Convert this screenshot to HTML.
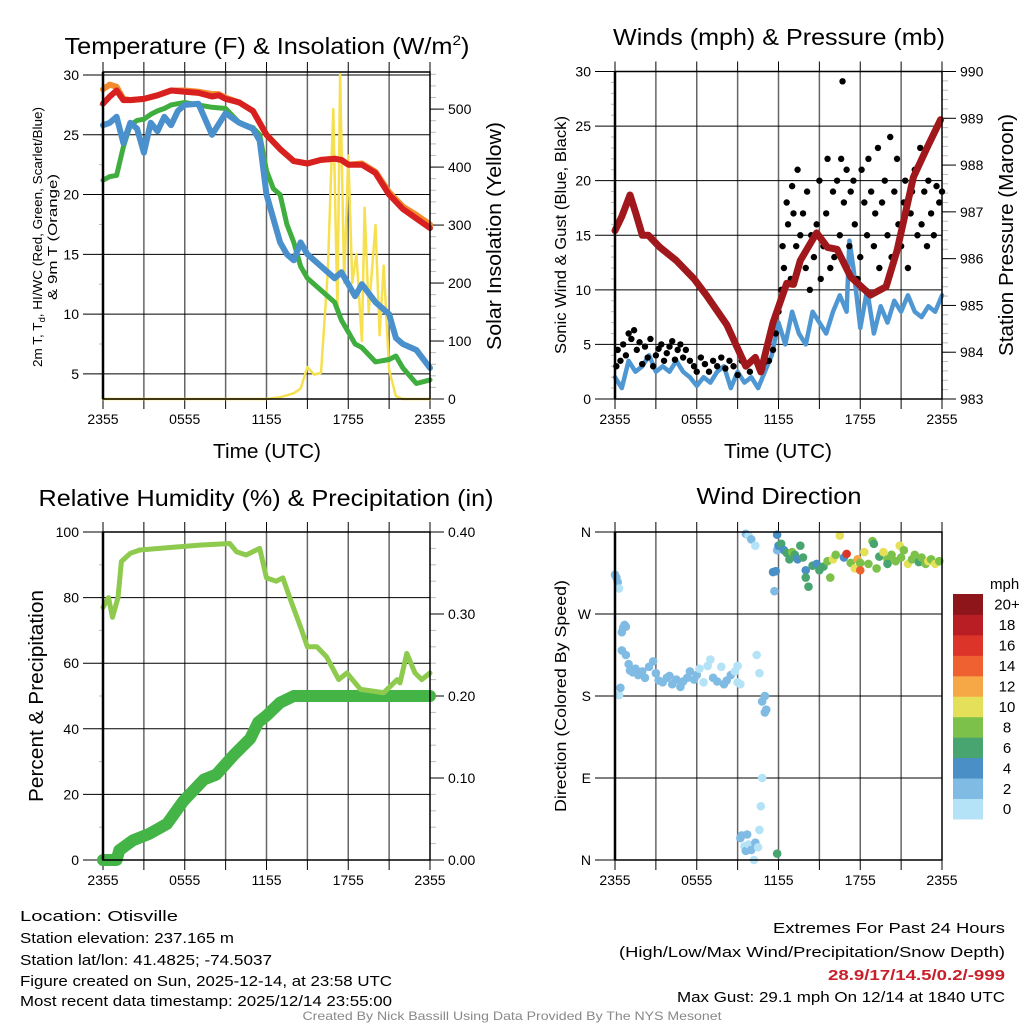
<!DOCTYPE html>
<html><head><meta charset="utf-8"><style>
html,body{margin:0;padding:0;background:#fff}
svg{display:block;font-family:"Liberation Sans",sans-serif}
</style></head><body>
<svg id="chart" xmlns="http://www.w3.org/2000/svg" width="1024" height="1024" viewBox="0 0 1024 1024">
<rect x="0" y="0" width="1024" height="1024" fill="#fff"/>
<text x="267" y="54" font-size="23" text-anchor="middle" textLength="405" lengthAdjust="spacingAndGlyphs">Temperature (F) &amp; Insolation (W/m<tspan dy="-9" font-size="14">2</tspan><tspan dy="9">)</tspan></text>
<text x="779" y="45" font-size="23" text-anchor="middle" textLength="332" lengthAdjust="spacingAndGlyphs">Winds (mph) &amp; Pressure (mb)</text>
<text x="266" y="506" font-size="23" text-anchor="middle" textLength="455" lengthAdjust="spacingAndGlyphs">Relative Humidity (%) &amp; Precipitation (in)</text>
<text x="779" y="504" font-size="23" text-anchor="middle" textLength="165" lengthAdjust="spacingAndGlyphs">Wind Direction</text>

<text transform="translate(42,237) rotate(-90)" font-size="13" text-anchor="middle" textLength="260" lengthAdjust="spacingAndGlyphs">2m T, T<tspan font-size="9" dy="3">d</tspan><tspan dy="-3">, HI/WC (Red, Green, Scarlet/Blue)</tspan></text>
<text transform="translate(57,237) rotate(-90)" font-size="13" text-anchor="middle" textLength="126" lengthAdjust="spacingAndGlyphs">&amp; 9m T (Orange)</text>
<text transform="translate(501,236) rotate(-90)" font-size="20" text-anchor="middle" textLength="228" lengthAdjust="spacingAndGlyphs">Solar Insolation (Yellow)</text>
<text x="267" y="458" font-size="20" text-anchor="middle" textLength="108" lengthAdjust="spacingAndGlyphs">Time (UTC)</text>
<text transform="translate(566,235) rotate(-90)" font-size="16" text-anchor="middle" textLength="238" lengthAdjust="spacingAndGlyphs">Sonic Wind &amp; Gust (Blue, Black)</text>
<text transform="translate(1013,235) rotate(-90)" font-size="20" text-anchor="middle" textLength="242" lengthAdjust="spacingAndGlyphs">Station Pressure (Maroon)</text>
<text x="778" y="458" font-size="20" text-anchor="middle" textLength="108" lengthAdjust="spacingAndGlyphs">Time (UTC)</text>
<text transform="translate(43,696) rotate(-90)" font-size="20" text-anchor="middle" textLength="212" lengthAdjust="spacingAndGlyphs">Percent &amp; Precipitation</text>
<text transform="translate(566,696) rotate(-90)" font-size="16" text-anchor="middle" textLength="232" lengthAdjust="spacingAndGlyphs">Direction (Colored By Speed)</text>
<text x="990" y="589" font-size="15" text-anchor="start">mph</text>

<g font-size="15">
<text x="20" y="921" textLength="158" lengthAdjust="spacingAndGlyphs">Location: Otisville</text>
<text x="20" y="943" textLength="214" lengthAdjust="spacingAndGlyphs">Station elevation: 237.165 m</text>
<text x="20" y="965" textLength="252" lengthAdjust="spacingAndGlyphs">Station lat/lon: 41.4825; -74.5037</text>
<text x="20" y="986" textLength="372" lengthAdjust="spacingAndGlyphs">Figure created on Sun, 2025-12-14, at 23:58 UTC</text>
<text x="20" y="1006" textLength="372" lengthAdjust="spacingAndGlyphs">Most recent data timestamp: 2025/12/14 23:55:00</text>
</g>
<g font-size="15" text-anchor="end">
<text x="1005" y="933" textLength="232" lengthAdjust="spacingAndGlyphs">Extremes For Past 24 Hours</text>
<text x="1005" y="957" textLength="386" lengthAdjust="spacingAndGlyphs">(High/Low/Max Wind/Precipitation/Snow Depth)</text>
<text x="1005" y="980" fill="#c8202a" font-weight="bold" textLength="177" lengthAdjust="spacingAndGlyphs">28.9/17/14.5/0.2/-999</text>
<text x="1005" y="1002" textLength="328" lengthAdjust="spacingAndGlyphs">Max Gust: 29.1 mph On 12/14 at 1840 UTC</text>
</g>
<text x="512" y="1020" font-size="12" fill="#888" text-anchor="middle" textLength="419" lengthAdjust="spacingAndGlyphs">Created By Nick Bassill Using Data Provided By The NYS Mesonet</text>
</svg>
<script>
// ---------- data (hours since 2355 UTC) ----------
const tempHours = [0,0.5,1,1.5,2,3,4,5,6,7,8,8.5,9,10,11,12,13,14,15,16,17,17.5,18,19,20,21,22,23,24];
const tempRed   = [27.6,28.2,28.7,27.9,27.9,28.0,28.3,28.7,28.6,28.5,28.2,28.3,28.0,27.7,27.0,25.0,23.8,22.8,22.6,22.9,23.0,22.9,22.5,22.5,21.8,20.0,18.8,18.0,17.2];
const tempOrange= [28.8,29.2,29.0,28.0,27.9,28.0,28.3,28.7,28.7,28.6,28.4,28.4,28.1,27.7,27.0,25.0,23.8,22.8,22.6,22.9,23.0,22.9,22.5,22.6,21.9,20.2,19.0,18.3,17.5];
const dewHours  = [0,0.5,1,1.5,2,2.5,3,3.5,4,4.5,5,5.5,6,7,8,9,10,11,11.5,12,12.5,13,13.5,14,14.5,15,15.5,16,16.5,17,17.5,18,18.5,19,20,21,21.5,22,23,24];
const tempGreen = [21.2,21.5,21.6,24.0,25.8,26.2,26.3,26.7,27.0,27.2,27.5,27.6,27.7,27.5,27.3,27.2,26.0,25.6,25.0,22.0,20.5,20.0,17.5,16.0,14.0,13.0,12.5,12.0,11.5,11.0,9.5,8.5,7.5,7.2,6.0,6.2,6.5,5.5,4.2,4.5];
const dewBlue   = [25.8,26.0,26.5,24.3,26.0,25.5,23.5,26.0,25.3,26.5,25.8,27.0,27.5,27.6,25.0,26.8,26.0,25.5,24.5,20.0,18.0,16.0,15.0,14.5,16.0,15.0,14.5,14.0,13.5,13.0,13.5,12.5,11.5,12.5,11.0,10.0,8.0,7.5,7.0,5.5];
const solarHours= [0,12,13,14,14.5,15,15.5,16,16.5,16.9,17.2,17.4,17.7,18,18.3,18.6,19,19.2,19.5,20,20.3,20.6,21,21.5,22,24];
const solarVals = [0,0,3,10,18,55,42,45,220,500,150,560,200,420,200,250,100,330,150,300,110,230,50,5,0,0];

const windHours = [0,0.5,1,1.5,2,2.5,3,3.5,4,4.5,5,5.5,6,6.5,7,7.5,8,8.5,9,9.5,10,10.5,11,11.5,12,12.5,13,13.5,14,14.5,15,15.5,16,16.5,17,17.2,17.5,18,18.5,19,19.5,20,20.5,21,21.5,22,22.5,23,23.5,24];
const windSpeed = [2,1,3.5,2.5,3,4,2.5,3,2.5,3.5,2.5,2,1.2,2,1.5,2.5,3,1,2.5,1.5,2,1,2.5,4,7,5,8,6,5,8,7,6,8,9.5,8,14.5,12,6.5,10,6,8.5,7,9,8,9.5,8,7.5,8.5,8,9.5];
const presHours = [0,0.5,1.1,1.5,2,2.45,3.3,4.5,5.8,6.7,8.2,9.6,10.3,10.7,11.6,12.6,13.1,13.6,14.8,15.6,16.3,17.3,18.75,19.9,20.7,21.9,22.9,23.9];
const presVals  = [986.6,986.9,987.36,987.0,986.5,986.5,986.24,985.96,985.57,985.22,984.59,983.7,983.89,983.58,984.63,985.47,985.45,985.96,986.55,986.24,986.2,985.61,985.22,985.4,986.17,987.74,988.37,988.97];
const gustHours = [0.1,0.2,0.4,0.6,0.8,1,1.2,1.4,1.6,1.8,2,2.2,2.4,2.6,2.8,3,3.2,3.4,3.6,3.8,4,4.2,4.4,4.6,4.8,5,5.2,5.5,5.8,6,6.3,6.6,6.9,7.2,7.5,7.8,8.1,8.4,8.7,9,9.3,9.6,9.9,10.2,10.5,10.8,11,11.3,11.6,11.8,12,12.2,12.3,12.4,12.6,12.7,12.9,13,13.1,13.3,13.4,13.6,13.8,14,14.1,14.3,14.4,14.6,14.8,15,15.1,15.3,15.5,15.6,15.8,16,16.1,16.3,16.5,16.6,16.7,16.8,17,17.2,17.3,17.5,17.6,17.8,18,18.1,18.3,18.5,18.6,18.8,19,19.1,19.3,19.4,19.6,19.8,20,20.2,20.3,20.5,20.7,20.8,21,21.2,21.3,21.5,21.7,21.8,22,22.2,22.4,22.5,22.7,22.9,23,23.2,23.4,23.6,23.8,24];
const gustVals  = [3,4.5,3.5,5,4,6,5.5,6.3,4.5,5.2,3.2,4.8,3.8,5.5,3,4,4.6,5,3.5,4.2,4.8,5.3,3.6,4.5,5,3.8,4.5,3.5,3,2.5,3.8,3.2,2.5,3.5,3,3.8,2.8,3.5,3,2.2,3.5,3.2,2.5,3.7,3.2,2.8,3.4,3.5,4.5,6,8,10,14,12,18,16,11,19.5,17,14,21,15,17,12,19,10,15,13,16,20,11,14,17,22,12,19,13,20,15,22,29.1,18,21,14,19,20,16,11,13,21,18,15,22,19,14,17,23,12,18,20,15,24,13,19,22,16,14,18,20,12,17,19,21,15,23,16,19,14,20,17,15,19.5,18,19];

const rhHours = [0,0.4,0.7,1.1,1.35,2,2.7,4.7,7.1,9.3,9.8,10.5,11.5,12,12.7,13.2,13.7,14.5,15,15.7,16.4,17.3,17.9,18.9,20.6,21.6,21.8,22.3,22.9,23.4,24];
const rhVals  = [77,80,74,80,91,93.5,94.5,95.2,96,96.5,94,93,95,86,85,86,80,71,65,65,62,55,57,52,51,55,54,63,57,55,57];
const pcpHours = [0,1,1.2,2.2,3.4,4.7,5.9,7.4,8.3,9.6,10.8,11.4,12,13,14,24];
const pcpVals  = [0,0,0.012,0.024,0.032,0.044,0.072,0.098,0.104,0.128,0.148,0.168,0.176,0.192,0.2,0.2];

const dirHours = [0,0.1,0.2,0.3,0.3,0.4,0.5,0.6,0.7,0.8,0.5,0.8,1,1.1,1.3,1.5,1.7,2,2.2,2.5,2.8,3,3.2,3.5,3.8,4,4.2,4.5,4.8,5,5.3,5.5,5.8,6,6.2,6.5,6.8,7,7.2,7.5,7.8,8,8.2,8.5,8.8,9,9,9.2,9.6,9.8,10,10.3,9.2,9.3,9.5,9.6,9.7,9.8,10,10.2,10.3,10.5,10.6,10.7,10.4,10.6,10.8,11,11,11.1,10.8,11.9,11.9,11.6,11.8,11.7,11.9,12,12.2,12.4,12.6,12.8,13,13.2,13.4,13.6,13.8,14,14.2,14,14.5,14.8,15,15.3,15.6,15.8,16,16.2,16.5,16.8,17,17.3,17.6,17.8,18,18,18.3,18.6,18.9,19,19.2,19.4,19.7,20,20,20.3,20.6,20.9,21,21.2,21.5,21.8,22,22.3,22.5,22.8,23,23.2,23.5,23.8];
const dirDeg   = [313,310,305,298,181,189,250,255,258,256,230,225,215,208,206,210,203,207,200,212,218,205,197,195,200,202,193,198,190,196,200,207,198,203,210,195,213,220,200,196,212,193,197,203,207,213,195,193,358,356,352,345,24,27,15,10,28,17,11,0,19,14,33,59,225,205,174,180,162,165,90,7,357,316,317,295,340,345,347,340,337,330,338,335,330,345,332,318,300,310,323,325,318,322,328,310,330,335,356,332,336,326,320,330,326,318,338,325,350,347,320,333,338,330,325,335,328,345,332,340,325,330,335,327,332,325,328,330,325,328];
const dirSpeed = [3,3,3,1,1,2,2,2,2,2,2,2,2,2,3,2,2,2,2,2,3,2,2,2,2,2,2,2,2,2,2,3,2,2,1,1,1,1,2,2,1,2,2,2,1,1,1,1,2,1,2,1,3,2,1,2,3,1,2,1,2,1,1,1,1,1,2,2,2,2,1,6,4,4,4,2,2,4,6,4,6,6,8,6,4,6,6,4,6,6,6,4,6,6,8,8,10,8,10,4,16,8,10,12,8,14,10,8,8,6,8,6,10,8,6,8,8,10,8,8,10,8,8,6,8,8,10,8,10,8,8];

const dirTicks = ['N','E','S','W','N'];
const timeTicks = ['2355','0555','1155','1755','2355'];
const speedBins = ['0','2','4','6','8','10','12','14','16','18','20+'];
const speedColors = ['#b4e2f7','#80bbe4','#4a8fc6','#48a56f','#7cc24a','#e5e05a','#f6a746','#ef6131','#dd3429','#b91e25','#8e161a'];

// ---------- helpers ----------
const NS='http://www.w3.org/2000/svg';
const svg=document.getElementById('chart');
function el(tag,attrs,parent){const e=document.createElementNS(NS,tag);for(const k in attrs)e.setAttribute(k,attrs[k]);(parent||svg).appendChild(e);return e;}
function lin(d0,d1,r0,r1){return v=>r0+(v-d0)*(r1-r0)/(d1-d0);}
function pathD(xs,ys,fx,fy){return xs.map((h,i)=>(i?'L':'M')+fx(h).toFixed(1)+','+fy(ys[i]).toFixed(1)).join('');}

function panel(name,x0,x1,yTop,yBot,leftD,leftMajor,leftMinor,leftFmt,gridVals,rightD,rightMajor,rightMinor,rightFmt){
  const g=el('g',{});
  
  
  const x=lin(0,24,x0,x1), yl=lin(leftD[0],leftD[1],yBot,yTop);
  const yr=rightD?lin(rightD[0],rightD[1],yBot,yTop):null;
  const gridG=el('g',{},g);
  
  
  for(let h=3;h<24;h+=3){
    const l=el('line',{x1:x(h),x2:x(h),y1:yTop,y2:yBot,stroke:'#666','stroke-width':1.5},gridG);
    
    
  }
  gridVals.forEach(v=>{
    const l=el('line',{x1:x0,x2:x1,y1:yl(v),y2:yl(v),stroke:'#000','stroke-width':1},gridG);
    
    
  });
  const axG=el('g',{'font-size':14},g);
  
  
  for(let v=leftMinor.start;v<=leftD[1]+1e-9;v+=leftMinor.step){
    const l=el('line',{x1:x0-4,x2:x0,y1:yl(v),y2:yl(v),stroke:'#bbb','stroke-width':1},axG);
    
    
  }
  leftMajor.forEach((v,i)=>{
    const l=el('line',{x1:x0-20,x2:x0,y1:yl(v),y2:yl(v),stroke:'#000','stroke-width':1},axG);
    
    
    const t=el('text',{x:x0-24,y:yl(v)+5,'text-anchor':'end'},axG);
    
    
    t.textContent=leftFmt(v,i);
  });
  if(rightD){
    for(let v=rightMinor.start;v<=rightD[1]+1e-9;v+=rightMinor.step){
      const l=el('line',{x1:x1,x2:x1+6,y1:yr(v),y2:yr(v),stroke:'#bbb','stroke-width':1},axG);
      
      
    }
    rightMajor.forEach(v=>{
      const l=el('line',{x1:x1,x2:x1+14,y1:yr(v),y2:yr(v),stroke:'#000','stroke-width':1},axG);
      
      
      const t=el('text',{x:x1+18,y:yr(v)+5,'text-anchor':'start'},axG);
      
      
      t.textContent=rightFmt(v);
    });
  }
  for(let h=0;h<=24;h+=3){
    const l=el('line',{x1:x(h),x2:x(h),y1:yBot,y2:yBot+10,stroke:'#000','stroke-width':1},axG);
    
    
    const l2=el('line',{x1:x(h),x2:x(h),y1:yTop-10,y2:yTop,stroke:'#000','stroke-width':1},axG);
    
    
  }
  timeTicks.forEach((s,i)=>{
    const t=el('text',{x:x(i*6),y:yBot+25,'text-anchor':'middle'},axG);
    
    
    t.textContent=s;
  });
  const dataG=el('g',{},g);
  
  
  return {g,x,yl,yr,dataG,axG,frame:()=>{
    const f=el('rect',{x:x0,y:yTop,width:x1-x0,height:yBot-yTop,fill:'none',stroke:'#000','stroke-width':1.5},g);
    
    
    const lf=el('line',{x1:x0,x2:x0,y1:yTop,y2:yBot,stroke:'#000','stroke-width':2.5},g);
    
    
  }};
}
function line(p,xs,ys,fy,color,w,nm){
  const pa=el('path',{d:pathD(xs,ys,p.x,fy),fill:'none',stroke:color,'stroke-width':w,'stroke-linejoin':'round','stroke-linecap':'round'},p.dataG);
  
  
}

// ---------- panel 1 ----------
const p1=panel('temperature',103,430,72,399,[2.9,30.25],[5,10,15,20,25,30],{start:5,step:2.5},v=>String(v),[5,10,15,20,25,30],
  [0,564],[0,100,200,300,400,500],{start:0,step:20},v=>String(v));
line(p1,solarHours,solarVals,p1.yr,'#f6e04f',2.5,'solar-insolation-line');
line(p1,dewHours,tempGreen,p1.yl,'#3fae3f',5,'dewpoint-line');
line(p1,dewHours,dewBlue,p1.yl,'#4a90cc',6,'windchill-line');
line(p1,tempHours,tempOrange,p1.yl,'#f38a2c',6,'temperature-9m-line');
line(p1,tempHours,tempRed,p1.yl,'#d7201f',6,'temperature-2m-line');
p1.frame();

// ---------- panel 2 ----------
const p2=panel('wind',615,942,71.5,399,[0,30],[0,5,10,15,20,25,30],{start:0,step:1},v=>String(v),[5,10,15,20,25,30],
  [983,990],[983,984,985,986,987,988,989,990],{start:983,step:0.2},v=>String(v));
line(p2,windHours,windSpeed,p2.yl,'#4f97d3',4.5,'sonic-wind-line');
gustHours.forEach((h,i)=>{
  const c=el('circle',{cx:p2.x(h),cy:p2.yl(gustVals[i]),r:3.2,fill:'#000'},p2.dataG);
  
  
});
line(p2,presHours,presVals,p2.yr,'#a0171c',7,'pressure-line');
p2.frame();

// ---------- panel 3 ----------
const p3=panel('humidity',103,430,532,860,[0,100],[0,20,40,60,80,100],{start:0,step:10},v=>String(v),[20,40,60,80,100],
  [0,0.4],[0,0.1,0.2,0.3,0.4],{start:0,step:0.02},v=>v.toFixed(2));
line(p3,pcpHours,pcpVals,p3.yr,'#45b447',12,'precipitation-line');
line(p3,rhHours,rhVals,p3.yl,'#8dca4e',5,'relative-humidity-line');
p3.frame();

// ---------- panel 4 ----------
const p4=panel('direction',615,942,532,860,[0,360],[0,90,180,270,360],{start:0,step:360},(v,i)=>dirTicks[i],[90,180,270,360],null);
function spdColor(s){return speedColors[Math.min(10,Math.floor(s/2))];}
dirHours.forEach((h,i)=>{
  const c=el('circle',{cx:p4.x(h),cy:p4.yl(dirDeg[i]),r:4.3,fill:spdColor(dirSpeed[i])},p4.dataG);
  
  
});
p4.frame();
const cb=el('g',{'font-size':15});


const cbTop=594, cbH=20.45;
speedBins.forEach((lab,i)=>{
  const k=10-i;
  const r=el('rect',{x:953,y:cbTop+k*cbH,width:30,height:cbH+0.5,fill:speedColors[i]},cb);
  
  
  const t=el('text',{x:1007,y:cbTop+k*cbH+cbH/2+5.5,'text-anchor':'middle'},cb);
  
  
  t.textContent=lab;
});
</script>
</body></html>
